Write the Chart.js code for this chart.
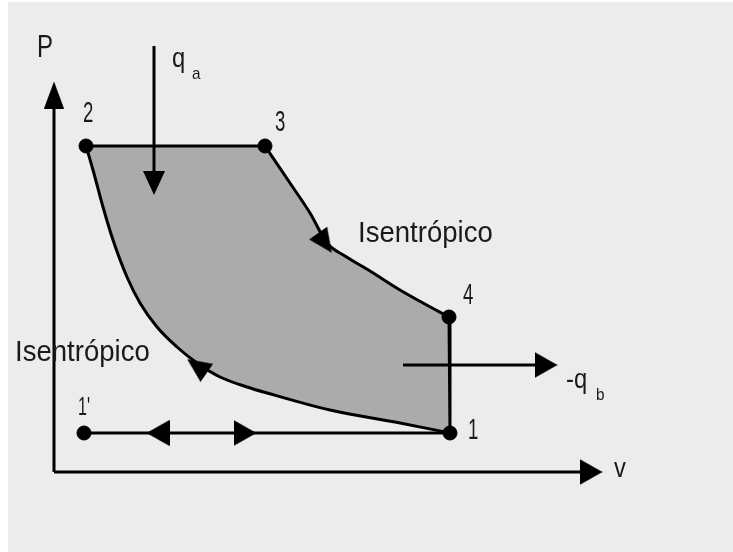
<!DOCTYPE html>
<html>
<head>
<meta charset="utf-8">
<script src="https://cdn.jsdelivr.net/npm/chart.js@4.4.0/dist/chart.umd.min.js"></script>
<style>
  html, body { margin: 0; padding: 0; background: #fff; }
  #wrap { width: 733px; height: 552px; }
</style>
</head>
<body>
<div id="wrap"><canvas id="ciclo" width="733" height="552"></canvas></div>
<script>
// Estados del ciclo Diesel (v, P), unidades arbitrarias del diagrama
const estados = ['1', '2', '3', '4', "1'"];
const estadoV = [3.96, 0.32, 2.11, 3.95, 0.30];
const estadoP = [0.39, 3.26, 3.26, 1.55, 0.39];

// Compresión isentrópica 1 -> 2 (desde 2 hacia 1)
const compV = [0.32, 0.39, 0.49, 0.59, 0.73, 0.86, 1.03, 1.23, 1.43, 1.66, 1.93, 2.13, 2.76, 3.46, 3.96];
const compP = [3.26, 3.02, 2.65, 2.32, 1.95, 1.69, 1.45, 1.25, 1.09, 0.95, 0.85, 0.79, 0.62, 0.49, 0.39];

// Expansión isentrópica 3 -> 4
const expV = [2.11, 2.36, 2.56, 2.73, 2.91, 3.16, 3.46, 3.69, 3.95];
const expP = [3.26, 2.89, 2.59, 2.29, 2.16, 2.01, 1.82, 1.69, 1.55];

// Flechas de calor: q_a (entra) y -q_b (sale)
const qaV = [1.00, 1.00];
const qaP = [4.26, 2.89];
const qbV = [3.49, 4.92];
const qbP = [1.07, 1.07];

// Ejes P y v
const ejePV = [0, 0];
const ejePP = [0, 3.77];
const ejeVV = [0, 5.37];
const ejeVP = [0, 0];

// Puntas de flecha (centro y giro en grados)
const puntaV = [0, 5.37, 1.00, 4.92, 1.04, 1.91, 2.71, 1.43];
const puntaP = [3.77, 0, 2.89, 1.07, 0.39, 0.39, 2.29, 1.06];
const puntaGiro = [0, 90, 180, 90, 270, 90, 145, 305];

const pts = (vs, ps) => vs.map((v, i) => ({ x: v, y: ps[i] }));
const est = (n) => ({ x: estadoV[estados.indexOf(n)], y: estadoP[estados.indexOf(n)] });

// contorno cerrado para el relleno: 2 -> 3 -> 4 -> 1 -> 2
const contorno = [est('2')]
  .concat(pts(expV, expP))
  .concat([est('1')])
  .concat(pts(compV, compP).reverse());

function punta(w, h) {
  const c = document.createElement('canvas');
  c.width = w; c.height = h;
  const g = c.getContext('2d');
  g.fillStyle = '#000';
  g.beginPath();
  g.moveTo(w / 2, 0);
  g.lineTo(w, h);
  g.lineTo(0, h);
  g.closePath();
  g.fill();
  return c;
}
const fina = punta(20, 27);
const ancha = punta(26, 23);
const media = punta(22, 24);
const puntaEstilo = [fina, ancha, media, ancha, ancha, ancha, media, media];

const fuente = '"Liberation Sans", Arial, sans-serif';
const rotulos = [
  { t: 'P', v: -0.17, p: 4.15, s: 32, sx: 0.75 },
  { t: 'q', v: 1.18, p: 4.05, s: 28, sx: 0.85 },
  { t: 'a', v: 1.38, p: 3.93, s: 17, sx: 0.9 },
  { t: '-q', v: 5.12, p: 0.84, s: 28, sx: 0.85 },
  { t: 'b', v: 5.42, p: 0.72, s: 17, sx: 0.9 },
  { t: 'v', v: 5.60, p: -0.05, s: 28, sx: 0.85 },
  { t: 'Isentrópico', v: 3.04, p: 2.30, s: 29, sx: 0.95 },
  { t: 'Isentrópico', v: -0.39, p: 1.11, s: 29, sx: 0.95 },
  { t: '2', v: 0.29, p: 3.50, s: 30, sx: 0.62 },
  { t: '3', v: 2.21, p: 3.41, s: 30, sx: 0.62 },
  { t: '4', v: 4.09, p: 1.68, s: 30, sx: 0.62 },
  { t: '1', v: 4.14, p: 0.33, s: 30, sx: 0.62 },
  { t: "1'", v: 0.24, p: 0.57, s: 26, sx: 0.62 }
];

const fondo = {
  id: 'fondo',
  beforeDraw(chart) {
    const ctx = chart.ctx;
    ctx.save();
    ctx.fillStyle = '#ffffff';
    ctx.fillRect(0, 0, chart.width, chart.height);
    ctx.fillStyle = '#ececec';
    ctx.fillRect(8, 2, chart.width - 8, chart.height - 2);
    ctx.restore();
  }
};

const textos = {
  id: 'textos',
  afterDatasetsDraw(chart) {
    const ctx = chart.ctx, sx = chart.scales.x, sy = chart.scales.y;
    ctx.save();
    ctx.fillStyle = '#1a1a1a';
    ctx.textBaseline = 'alphabetic';
    ctx.textAlign = 'left';
    rotulos.forEach(r => {
      ctx.save();
      ctx.translate(sx.getPixelForValue(r.v), sy.getPixelForValue(r.p));
      ctx.scale(r.sx, 1);
      ctx.font = r.s + 'px ' + fuente;
      ctx.fillText(r.t, 0, 0);
      ctx.restore();
    });
    ctx.restore();
  }
};

const linea = (data, extra) => Object.assign({
  data: data,
  showLine: true,
  borderColor: '#000',
  borderWidth: 3,
  pointRadius: 0,
  tension: 0,
  fill: false
}, extra || {});

new Chart(document.getElementById('ciclo'), {
  type: 'scatter',
  data: {
    datasets: [
      // estados
      { data: pts(estadoV, estadoP), backgroundColor: '#000', borderColor: '#000', pointRadius: 7, order: 0 },
      // puntas de flecha
      { data: pts(puntaV, puntaP), pointStyle: puntaEstilo, pointRotation: puntaGiro, pointRadius: 5, order: 1 },
      linea([est('2'), est('3')], { order: 2 }),
      linea([est('4'), est('1')], { order: 2 }),
      linea([est("1'"), est('1')], { order: 2 }),
      linea(pts(expV, expP), { cubicInterpolationMode: 'monotone', order: 2 }),
      linea(pts(compV, compP), { cubicInterpolationMode: 'monotone', order: 2 }),
      linea(pts(qaV, qaP), { order: 3 }),
      linea(pts(qbV, qbP), { order: 3 }),
      linea(pts(ejePV, ejePP), { order: 3 }),
      linea(pts(ejeVV, ejeVP), { order: 3 }),
      // relleno del ciclo
      linea(contorno, { borderWidth: 0, backgroundColor: '#ababab', fill: 'shape', order: 10 })
    ]
  },
  options: {
    responsive: false,
    animation: false,
    layout: { padding: 0, autoPadding: false },
    plugins: { legend: { display: false }, tooltip: { enabled: false } },
    scales: {
      x: { type: 'linear', min: -0.54, max: 6.79, display: false },
      y: { type: 'linear', min: -0.80, max: 4.72, display: false }
    }
  },
  plugins: [fondo, textos]
});
</script>
</body>
</html>
